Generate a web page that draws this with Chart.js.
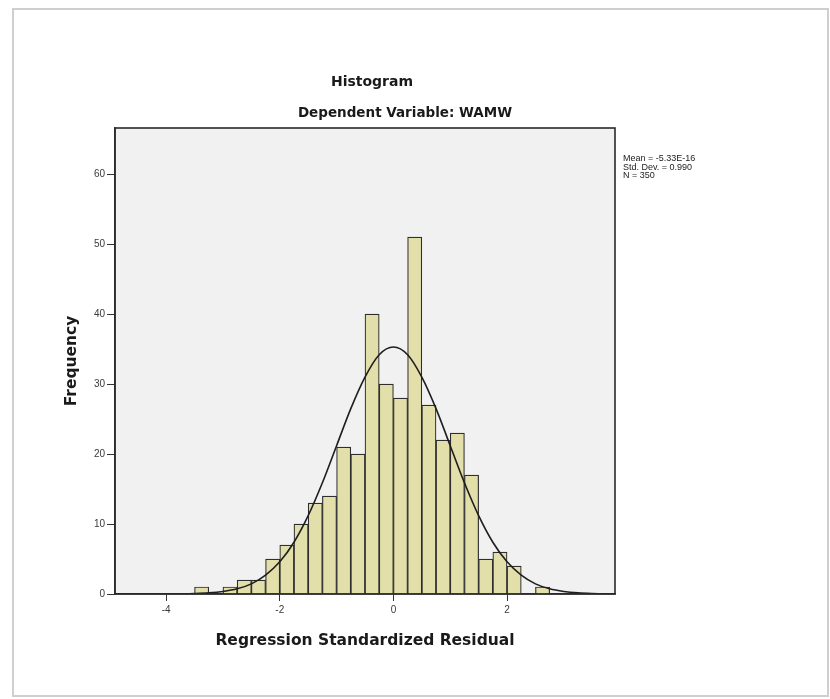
<!DOCTYPE html>
<html>
<head>
<meta charset="utf-8">
<title>Histogram</title>
<script src="https://cdn.jsdelivr.net/npm/chart.js@4.4.1/dist/chart.umd.min.js"></script>
<style>
  html, body { margin: 0; padding: 0; background: #fff; }
  #wrap { width: 830px; height: 699px; }
</style>
</head>
<body>
<div id="wrap"><canvas id="histo" width="830" height="699"></canvas></div>
<script>

// residual bins (centre of each 0.25 wide bin) and their counts
var binCenters = [-3.375, -3.125, -2.875, -2.625, -2.375, -2.125, -1.875, -1.625, -1.375, -1.125,
                  -0.875, -0.625, -0.375, -0.125, 0.125, 0.375, 0.625, 0.875, 1.125, 1.375,
                  1.625, 1.875, 2.125, 2.375, 2.625];
var frequencies = [1, 0, 1, 2, 2, 5, 7, 10, 13, 14,
                   21, 20, 40, 30, 28, 51, 27, 22, 23, 17,
                   5, 6, 4, 0, 1];

// normal curve points
var curveX = [-4.9, -4.5, -4.0, -3.75, -3.5, -3.25, -3.0, -2.75, -2.5, -2.25, -2.0, -1.75, -1.5, -1.25,
              -1.0, -0.75, -0.5, -0.25, 0, 0.25, 0.5, 0.75, 1.0, 1.25, 1.5, 1.75, 2.0, 2.25, 2.5,
              2.75, 3.0, 3.25, 3.5, 3.9];
var curveY = [0, 0, 0.01, 0.03, 0.07, 0.16, 0.36, 0.74, 1.45, 2.7, 4.6, 7.4, 11.2, 15.9,
              21.2, 26.5, 31.0, 34.2, 35.3, 34.2, 31.0, 26.5, 21.2, 15.9, 11.2, 7.4, 4.6, 2.7, 1.45,
              0.74, 0.36, 0.16, 0.07, 0.01];

var xTicks = [-4, -2, 0, 2];
var yTicks = [0, 10, 20, 30, 40, 50, 60];

var titleText = "Histogram";
var subtitleText = "Dependent Variable: WAMW";
var statsLines = ["Mean = -5.33E-16", "Std. Dev. = 0.990", "N = 350"];

var barPoints = binCenters.map(function (x, i) { return { x: x, y: frequencies[i] }; });
var curvePoints = curveX.map(function (x, i) { return { x: x, y: curveY[i] }; });

var tickFont = { family: "'Liberation Sans', Arial, sans-serif", size: 10 };
var axisTitleFont = { family: "'DejaVu Sans', Verdana, sans-serif", size: 15.5, weight: "bold" };

// page border, plot background, frame, titles and the stats box
var decorations = {
    id: "decorations",
    beforeDraw: function (chart) {
        var ctx = chart.ctx, a = chart.chartArea;
        ctx.save();
        ctx.fillStyle = "#ffffff";
        ctx.fillRect(0, 0, chart.width, chart.height);
        ctx.strokeStyle = "#cfcfcf";
        ctx.lineWidth = 2;
        ctx.strokeRect(13, 9, 815, 687);
        ctx.fillStyle = "#f1f1f1";
        ctx.fillRect(a.left, a.top, a.right - a.left, a.bottom - a.top);
        ctx.restore();
    },
    afterDatasetsDraw: function (chart) {
        var ctx = chart.ctx, a = chart.chartArea;
        ctx.save();
        ctx.strokeStyle = "#2a2a2a";
        ctx.lineWidth = 1.6;
        ctx.strokeRect(a.left, a.top, a.right - a.left, a.bottom - a.top);
        ctx.restore();
    },
    afterDraw: function (chart) {
        var ctx = chart.ctx, a = chart.chartArea;
        ctx.save();
        ctx.fillStyle = "#1a1a1a";
        ctx.textAlign = "center";
        ctx.textBaseline = "middle";
        ctx.font = "bold 14px 'DejaVu Sans', Verdana, sans-serif";
        ctx.fillText(titleText, 372, 82);
        ctx.font = "bold 13.5px 'DejaVu Sans', Verdana, sans-serif";
        ctx.fillText(subtitleText, 405, 113);

        ctx.textAlign = "left";
        ctx.font = "9px 'Liberation Sans', Arial, sans-serif";
        ctx.fillStyle = "#222222";
        statsLines.forEach(function (t, i) {
            ctx.fillText(t, a.right + 8, 159 + i * 8.5);
        });
        ctx.restore();
    }
};

new Chart(document.getElementById("histo"), {
    type: "bar",
    data: {
        datasets: [
            {
                type: "line",
                data: curvePoints,
                borderColor: "#1e1e1e",
                borderWidth: 1.6,
                pointRadius: 0,
                fill: false,
                cubicInterpolationMode: "monotone",
                order: 0
            },
            {
                type: "bar",
                data: barPoints,
                backgroundColor: "#e3dfab",
                borderColor: "#2e2e2e",
                borderWidth: 1.2,
                barPercentage: 1,
                categoryPercentage: 1,
                order: 1
            }
        ]
    },
    options: {
        responsive: false,
        animation: false,
        layout: { padding: { top: 128, right: 215, bottom: 0, left: 0 } },
        plugins: {
            legend: { display: false },
            tooltip: { enabled: false }
        },
        scales: {
            x: {
                type: "linear",
                min: -4.9,
                max: 3.9,
                offset: false,
                afterBuildTicks: function (scale) {
                    scale.ticks = xTicks.map(function (v) { return { value: v }; });
                },
                afterFit: function (scale) { scale.height = 105; },
                grid: { drawOnChartArea: false, drawTicks: true, tickLength: 7, color: "#333", offset: false },
                border: { display: true, color: "#333", width: 1.6 },
                ticks: { font: tickFont, color: "#3a3a3a", padding: 3, maxRotation: 0 },
                title: {
                    display: true,
                    text: "Regression Standardized Residual",
                    font: axisTitleFont,
                    color: "#1a1a1a",
                    padding: { top: 0, bottom: 49 }
                }
            },
            y: {
                min: 0,
                max: 66.6,
                afterBuildTicks: function (scale) {
                    scale.ticks = yTicks.map(function (v) { return { value: v }; });
                },
                afterFit: function (scale) { scale.width = 115; },
                grid: { drawOnChartArea: false, drawTicks: true, tickLength: 8, color: "#333" },
                border: { display: true, color: "#333", width: 1.6 },
                ticks: { font: tickFont, color: "#3a3a3a", padding: 2 },
                title: {
                    display: true,
                    text: "Frequency",
                    font: axisTitleFont,
                    color: "#1a1a1a",
                    padding: { top: 63, bottom: 0 }
                }
            }
        }
    },
    plugins: [decorations]
});
</script>
</body>
</html>
